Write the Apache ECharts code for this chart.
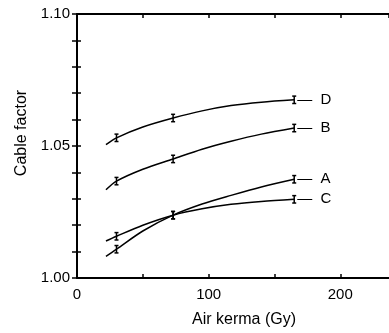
<!DOCTYPE html>
<html>
<head>
<meta charset="utf-8">
<script src="https://cdn.jsdelivr.net/npm/echarts@6/dist/echarts.min.js"></script>
<style>
	html, body { margin: 0; padding: 0; background: #fff; }
	#chart { width: 389px; height: 333px; }
</style>
</head>
<body>
<div id="chart"></div>
<script>
// fitted curves
var curveX = [22, 30, 50, 73, 95, 117, 140, 165];
var curveD = [1.0505, 1.0531, 1.0572, 1.0606, 1.0633, 1.0653, 1.0666, 1.0675];
var curveB = [1.0334, 1.0367, 1.0412, 1.0451, 1.0488, 1.0518, 1.0545, 1.0568];
var curveA = [1.0082, 1.0109, 1.0178, 1.0238, 1.0280, 1.0313, 1.0345, 1.0374];
var curveC = [1.0140, 1.0158, 1.0200, 1.0238, 1.0262, 1.0279, 1.0290, 1.0298];

// measured points with error bars
var measX = [30, 73, 165];
var measD = [1.0531, 1.0606, 1.0675];
var measB = [1.0367, 1.0451, 1.0568];
var measA = [1.0109, 1.0238, 1.0374];
var measC = [1.0158, 1.0238, 1.0298];
var errHalf = 0.0014;

var xLabels = [0, 100, 200];
var yLabels = ['1.00', '1.05', '1.10'];

var font = '"Liberation Sans", "DejaVu Sans", sans-serif';

function pairs(xs, ys) {
	return xs.map(function(x, i) { return [x, ys[i]]; });
}

function curve(name, ys) {
	return {
		name: name,
		type: 'line',
		data: pairs(curveX, ys),
		smooth: 0.3,
		symbol: 'none',
		lineStyle: { color: '#000', width: 1.5 },
		endLabel: {
			show: true,
			distance: 3,
			formatter: '—  ' + name,
			color: '#000',
			fontFamily: font,
			fontSize: 15
		}
	};
}

function bars(ys) {
	return {
		type: 'custom',
		data: measX.map(function(x, i) { return [x, ys[i], errHalf]; }),
		renderItem: function(params, api) {
			var x = api.value(0), y = api.value(1), e = api.value(2);
			var top = api.coord([x, y + e]);
			var bot = api.coord([x, y - e]);
			var st = { stroke: '#000', lineWidth: 1.5 };
			return {
				type: 'group',
				children: [
					{ type: 'line', shape: { x1: top[0], y1: top[1], x2: bot[0], y2: bot[1] }, style: st },
					{ type: 'line', shape: { x1: top[0] - 2, y1: top[1], x2: top[0] + 2, y2: top[1] }, style: st },
					{ type: 'line', shape: { x1: bot[0] - 2, y1: bot[1], x2: bot[0] + 2, y2: bot[1] }, style: st }
				]
			};
		},
		z: 3
	};
}

var myChart = echarts.init(document.getElementById('chart'));
var option = {
	animation: false,
	grid: { left: 77, top: 14, right: -2, bottom: 54 },
	xAxis: [{
		type: 'value',
		min: 0,
		max: 237,
		interval: 50,
		name: 'Air kerma (Gy)',
		nameLocation: 'middle',
		nameGap: 34,
		nameTextStyle: { color: '#000', fontFamily: font, fontSize: 16, padding: [0, 0, 0, 22] },
		axisLine: { lineStyle: { color: '#000', width: 2 } },
		axisTick: { inside: true, length: 4, lineStyle: { color: '#000', width: 1.5 } },
		axisLabel: {
			color: '#000', fontFamily: font, fontSize: 15, margin: 9,
			showMaxLabel: false,
			formatter: function(v) { return xLabels.indexOf(v) >= 0 ? String(v) : ''; }
		},
		splitLine: { show: false }
	}, {
		type: 'value',
		position: 'top',
		min: 0,
		max: 237,
		interval: 50,
		axisLine: { show: true, lineStyle: { color: '#000', width: 2 } },
		axisTick: { show: true, inside: true, length: 4, lineStyle: { color: '#000', width: 1.5 } },
		axisLabel: { show: false },
		splitLine: { show: false }
	}],
	yAxis: [{
		type: 'value',
		min: 1.0,
		max: 1.1,
		interval: 0.01,
		name: 'Cable factor',
		nameLocation: 'middle',
		nameGap: 46,
		nameTextStyle: { color: '#000', fontFamily: font, fontSize: 16, padding: [0, 0, 0, 26] },
		axisLine: { show: true, lineStyle: { color: '#000', width: 2 } },
		axisTick: { inside: true, length: 4, lineStyle: { color: '#000', width: 1.5 } },
		axisLabel: {
			color: '#000', fontFamily: font, fontSize: 15, margin: 7,
			formatter: function(v) {
				var s = v.toFixed(2);
				return yLabels.indexOf(s) >= 0 ? s : '';
			}
		},
		splitLine: { show: false }
	}, {
		type: 'value',
		position: 'right',
		min: 1.0,
		max: 1.1,
		interval: 0.01,
		axisLine: { show: false },
		axisTick: { show: true, inside: true, length: 5, lineStyle: { color: '#000', width: 1.5 } },
		axisLabel: { show: false },
		splitLine: { show: false }
	}],
	series: [
		curve('D', curveD),
		curve('B', curveB),
		curve('A', curveA),
		curve('C', curveC),
		bars(measD),
		bars(measB),
		bars(measA),
		bars(measC)
	]
};
myChart.setOption(option);
</script>
</body>
</html>
